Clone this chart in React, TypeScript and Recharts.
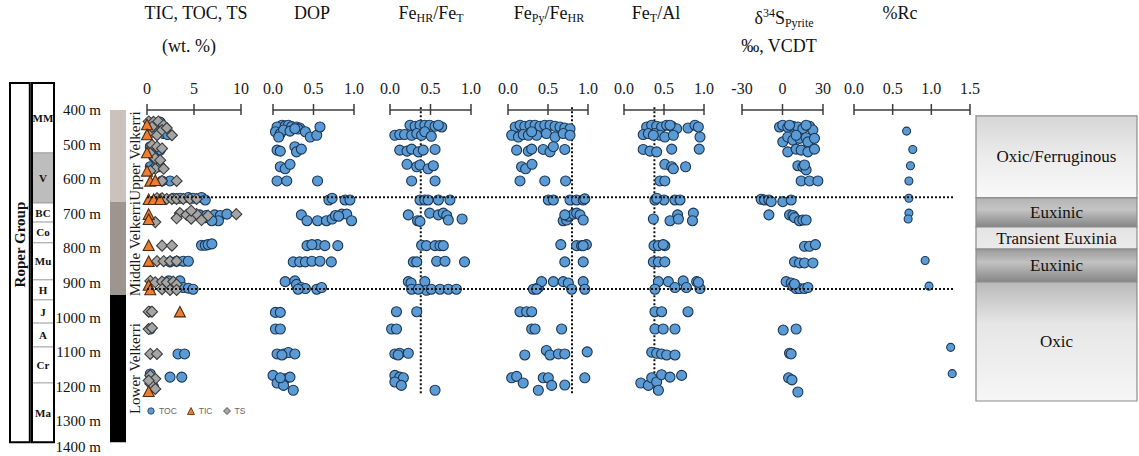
import React from "react";
import { ScatterChart, Scatter, XAxis, YAxis, ReferenceLine, ReferenceArea } from "recharts";

const SERIF = '"Liberation Serif", "Times New Roman", serif';
const SANS = '"Liberation Sans", Arial, sans-serif';
const W = 1139;
const H = 456;
const TOP = 110; // plot top (400 m)
const DEPTH: [number, number] = [400, 1400];
const PAD = 14;

const depthTicks = [400, 500, 600, 700, 800, 900, 1000, 1100, 1200, 1300, 1400];

const members = [
  { name: "Upper Velkerri", top: 400, base: 666 },
  { name: "Middle Velkerri", top: 666, base: 935 },
  { name: "Lower Velkerri", top: 935, base: 1360 },
];
const memberColors = ["#cbc2be", "#9e9490", "#000000"];

const formations = [
  { name: "MM", top: 322, base: 524 },
  { name: "V", top: 524, base: 669 },
  { name: "BC", top: 669, base: 724 },
  { name: "Co", top: 724, base: 784 },
  { name: "Mu", top: 784, base: 891 },
  { name: "H", top: 891, base: 949 },
  { name: "J", top: 949, base: 1016 },
  { name: "A", top: 1016, base: 1085 },
  { name: "Cr", top: 1085, base: 1189 },
  { name: "Ma", top: 1189, base: 1360 },
];

const redoxZones = [
  { name: "Oxic/Ferruginous", top: 417, base: 654 },
  { name: "Euxinic", top: 654, base: 738 },
  { name: "Transient Euxinia", top: 738, base: 802 },
  { name: "Euxinic", top: 802, base: 897 },
  { name: "Oxic", top: 897, base: 1241 },
];
const zoneFills = ["url(#zOxFe)", "url(#zEux1)", "url(#zTrans)", "url(#zEux2)", "url(#zOxic)"];

const boundaryDepths = [652, 917];

// [depth m, value]
const toc = [
  [438, 0.35], [444, 0.88], [435, 1.4], [468, 1.77], [471, 2.2], [458, 0.53], [454, 1.06],
  [506, 0.35], [511, 0.88], [516, 1.4], [535, 0.7],
  [564, 0.35], [567, 0.88], [564, 1.4],
  [605, 2.45], [605, 1.6],
  [655, 3.5], [653, 4.4], [655, 4.9], [653, 5.8], [660, 6.2], [655, 2.8],
  [703, 5.6], [711, 6.2], [713, 6.7], [703, 7.2], [705, 7.8], [701, 8.5], [720, 7.6], [720, 6.9], [705, 6.3],
  [791, 5.8], [791, 6.2], [789, 6.5], [787, 6.9],
  [837, 3.15], [837, 3.86], [837, 4.4], [839, 2.45],
  [894, 2.3], [894, 3.5], [913, 3.86], [915, 4.4], [918, 4.9], [913, 2.45],
  [983, 0.35], [1033, 0.35], [1105, 3.3], [1105, 4.0],
  [1172, 2.45], [1172, 3.7], [1163, 0.35], [1182, 0.5], [1201, 0.7],
];
const ts = [
  [433, 0.18], [434, 0.7], [433, 1.2], [444, 1.77], [473, 2.65], [468, 0.35], [473, 1.06], [458, 1.6], [452, 2.1], [449, 0.53],
  [501, 0.53], [506, 1.06], [511, 1.6], [525, 0.35], [540, 0.88], [545, 1.4],
  [570, 0.88], [570, 1.77], [576, 0.35],
  [605, 1.6], [605, 3.15],
  [655, 1.06], [655, 1.6], [657, 2.1], [657, 2.65], [657, 3.15], [657, 3.86], [657, 4.57], [657, 5.28],
  [724, 0.88], [698, 3.5], [713, 3.15], [703, 4.2], [714, 4.7], [701, 5.28], [718, 5.8], [705, 6.5], [701, 9.5], [691, 4.7],
  [792, 1.6], [792, 2.65],
  [837, 1.06], [837, 1.77], [837, 2.45], [837, 3.15],
  [894, 0.35], [898, 0.88], [896, 1.6], [898, 2.1], [896, 2.8], [904, 3.15], [918, 1.6], [920, 2.45], [920, 3.15],
  [983, 0.18], [983, 0.53],
  [1033, 0.18], [1030, 0.53],
  [1105, 0.35], [1105, 1.06],
  [1167, 0.35], [1177, 0.88], [1191, 0.35], [1206, 0.88], [1182, 0.18],
];
const tic = [
  [444, 0], [473, 0], [525, 0], [578, 0], [607, 0.35], [605, 0.88], [660, 0.18], [660, 0.7], [660, 1.4],
  [703, 0.18], [718, 0.18], [793, 0.18], [839, 0.18], [908, 0.18], [921, 0.35], [985, 3.5], [1215, 0.18],
];

const dop = [
  [444, 0.11], [449, 0.05], [446, 0.15], [444, 0.19], [448, 0.23], [449, 0.29], [452, 0.33], [463, 0.03], [468, 0.09],
  [458, 0.13], [461, 0.21], [455, 0.31], [463, 0.4], [478, 0.46], [473, 0.54], [449, 0.58], [478, 0.07], [454, 0.27],
  [516, 0.05], [519, 0.09], [506, 0.27], [521, 0.29], [513, 0.35],
  [564, 0.09], [570, 0.15], [557, 0.21],
  [605, 0.05], [605, 0.17], [605, 0.55],
  [660, 0.69], [655, 0.73], [660, 0.89], [660, 0.95],
  [703, 0.35], [720, 0.42], [720, 0.55], [720, 0.66], [715, 0.73], [705, 0.77], [701, 0.85], [701, 0.91], [720, 0.97], [707, 0.81],
  [792, 0.42], [789, 0.55], [792, 0.64], [792, 0.8], [789, 0.48],
  [839, 0.25], [839, 0.33], [839, 0.4], [837, 0.48], [837, 0.58], [839, 0.72],
  [896, 0.15], [894, 0.27], [904, 0.29], [913, 0.35], [916, 0.4], [918, 0.54], [913, 0.6], [918, 0.31],
  [985, 0.03], [985, 0.09],
  [1033, 0.03], [1033, 0.09],
  [1105, 0.05], [1105, 0.13], [1101, 0.19], [1105, 0.27], [1108, 0.11],
  [1167, 0.0], [1189, 0.05], [1177, 0.15], [1172, 0.21], [1196, 0.13], [1210, 0.25], [1174, 0.09],
];

const feHR = [
  [444, 0.247], [447, 0.31], [444, 0.37], [444, 0.43], [444, 0.49], [447, 0.556], [449, 0.638], [444, 0.597],
  [473, 0.06], [471, 0.12], [471, 0.18], [473, 0.267], [468, 0.33], [473, 0.39], [463, 0.43], [476, 0.51],
  [516, 0.12], [519, 0.21], [513, 0.267], [521, 0.35], [516, 0.41], [514, 0.556],
  [557, 0.21], [564, 0.33], [559, 0.37], [570, 0.47], [561, 0.535],
  [605, 0.267], [605, 0.556],
  [660, 0.37], [660, 0.43], [660, 0.47], [660, 0.597], [660, 0.74],
  [703, 0.226], [720, 0.34], [722, 0.37], [698, 0.49], [703, 0.597], [698, 0.658], [705, 0.7], [718, 0.72], [715, 0.89],
  [791, 0.39], [792, 0.45], [792, 0.556], [792, 0.617], [792, 0.658],
  [839, 0.288], [839, 0.33], [837, 0.576], [837, 0.679], [839, 0.92],
  [896, 0.226], [900, 0.26], [918, 0.267], [896, 0.43], [921, 0.45], [918, 0.51], [918, 0.617], [918, 0.72], [918, 0.82], [918, 0.35],
  [983, 0.08], [983, 0.33],
  [1033, 0.02], [1033, 0.08],
  [1105, 0.06], [1103, 0.12], [1103, 0.226], [1108, 0.1],
  [1167, 0.06], [1172, 0.12], [1174, 0.165], [1186, 0.06], [1196, 0.14], [1210, 0.556],
];

const fePy = [
  [449, 0.09], [444, 0.15], [447, 0.21], [444, 0.275], [444, 0.338], [447, 0.4], [444, 0.46], [444, 0.525], [447, 0.588], [449, 0.65], [452, 0.71], [454, 0.775],
  [473, 0.046], [478, 0.13], [471, 0.19], [473, 0.254], [473, 0.358], [468, 0.48], [478, 0.588], [468, 0.69], [473, 0.775], [463, 0.296],
  [516, 0.108], [519, 0.254], [513, 0.296], [514, 0.44], [521, 0.525], [506, 0.567], [514, 0.71],
  [564, 0.17], [570, 0.22], [557, 0.3],
  [605, 0.15], [605, 0.46], [605, 0.72],
  [660, 0.504], [660, 0.567], [660, 0.775], [660, 0.858], [660, 0.94], [657, 0.96],
  [720, 0.69], [718, 0.733], [707, 0.754], [701, 0.817], [698, 0.858], [703, 0.9], [718, 0.94], [703, 0.71],
  [789, 0.66], [792, 0.858], [792, 0.92], [789, 0.98], [792, 0.94],
  [839, 0.71], [839, 0.94],
  [918, 0.317], [913, 0.379], [896, 0.42], [896, 0.567], [896, 0.69], [900, 0.754], [896, 0.94], [918, 0.358], [918, 0.796], [918, 0.96],
  [983, 0.15], [983, 0.233], [983, 0.296],
  [1033, 0.296], [1033, 0.338], [1033, 0.67],
  [1108, 0.21], [1095, 0.48], [1108, 0.525], [1105, 0.63], [1105, 0.71], [1099, 0.99],
  [1174, 0.046], [1170, 0.108], [1189, 0.19], [1174, 0.44], [1174, 0.504], [1196, 0.546], [1210, 0.379], [1195, 0.71], [1174, 0.96],
];

const feTAl = [
  [449, 0.283], [444, 0.346], [447, 0.408], [449, 0.47], [444, 0.533], [447, 0.596], [454, 0.658], [452, 0.8], [444, 0.887], [449, 0.929], [444, 0.575],
  [471, 0.24], [468, 0.304], [468, 0.387], [473, 0.45], [478, 0.51], [473, 0.617], [478, 0.95], [473, 0.367],
  [514, 0.24], [519, 0.325], [521, 0.408], [513, 0.596], [513, 0.94],
  [557, 0.51], [564, 0.596], [570, 0.617], [564, 0.77],
  [605, 0.45], [605, 0.51],
  [660, 0.387], [660, 0.5], [660, 0.637], [660, 0.7], [655, 0.408],
  [715, 0.367], [720, 0.575], [703, 0.67], [715, 0.68], [698, 0.867], [720, 0.856],
  [792, 0.375], [792, 0.43], [792, 0.51], [789, 0.49],
  [839, 0.367], [839, 0.43], [839, 0.51],
  [896, 0.43], [896, 0.554], [913, 0.637], [894, 0.74], [913, 0.78], [896, 0.908], [916, 0.95], [918, 0.387], [898, 0.93],
  [983, 0.387], [983, 0.47], [983, 0.8],
  [1033, 0.387], [1033, 0.49], [1033, 0.637],
  [1100, 0.346], [1103, 0.408], [1105, 0.47], [1108, 0.533], [1108, 0.637],
  [1189, 0.21], [1196, 0.304], [1174, 0.346], [1186, 0.408], [1165, 0.47], [1172, 0.575], [1167, 0.72], [1210, 0.43],
];

const d34S = [
  [449, -2.2], [444, 0.2], [450, 3.9], [447, 7.7], [449, 11.4], [454, 15.1], [447, 20.0], [458, 22.5], [444, 5.2], [444, 17.5],
  [492, 0.2], [478, 3.9], [487, 7.7], [482, 12.6], [480, 17.5], [492, 18.8], [482, 23.7], [473, 10.1],
  [521, 3.9], [513, 10.1], [516, 13.8], [521, 18.8], [513, 23.7],
  [561, 11.4], [564, 15.1], [573, 17.5], [559, 16.3],
  [605, 13.8], [605, 20.0], [605, 26.2],
  [658, -15.8], [660, -13.3], [660, -10.1], [665, -8.4], [665, 0.2], [660, 6.4],
  [703, -10.1], [703, 5.2], [705, 7.7], [711, 8.9], [720, 12.6], [718, 15.1], [718, 17.5],
  [794, 16.3], [794, 20.0], [789, 24.4],
  [839, 8.9], [842, 12.6], [842, 16.3], [842, 22.5],
  [896, 2.7], [900, 6.4], [909, 7.7], [916, 10.1], [916, 12.6], [916, 16.3], [913, 18.8], [903, 8.9],
  [1036, 0.5], [1033, 10.1],
  [1103, 5.2], [1105, 6.4],
  [1174, 4.5], [1180, 7.0], [1215, 11.4],
];

const rc = [
  [461, 0.68], [514, 0.76], [561, 0.73], [605, 0.71], [655, 0.71], [698, 0.71], [715, 0.7],
  [835, 0.92], [909, 0.97], [1086, 1.25], [1162, 1.27],
];

const rows = (a: number[][]) => a.map(([depth, value]) => ({ depth, value }));
// mid-depth anchors so that the helper charts have data of their own
const mids = (a: { top: number; base: number }[], value: number) =>
  a.map((d) => ({ depth: (d.top + d.base) / 2, value }));

const AxisTick = (p: any) => {
  const { x, y, payload, digits } = p;
  return (
    <g>
      <line x1={x} x2={x} y1={y - 6} y2={y + 5} stroke="#3c3c3c" strokeWidth={1.5} />
      <text x={x} y={y - 16} textAnchor="middle" fontFamily={SERIF} fontSize={16} fill="#1a1a1a">
        {Number(payload.value).toFixed(digits)}
      </text>
    </g>
  );
};

// depth label; the last one sits just inside the bottom edge, as in the figure
const DepthTick = (p: any) => (
  <text x={p.x} y={Math.min(p.y, H - 9)} textAnchor="end" dominantBaseline="central"
    fontFamily={SERIF} fontSize={15} fill="#111">
    {`${p.payload.value} m`}
  </text>
);

const dotShape = (r: number) => (p: any) => (
  <circle cx={p.cx} cy={p.cy} r={r} fill="#5b9bd5" stroke="#1c3653" strokeWidth={1.1} />
);
const triShape = (p: any) => (
  <polygon
    points={`${p.cx},${p.cy - 6} ${p.cx - 5.5},${p.cy + 4.5} ${p.cx + 5.5},${p.cy + 4.5}`}
    fill="#ed7d31" stroke="#4a2a10" strokeWidth={1.1}
  />
);
const diaShape = (p: any) => (
  <polygon
    points={`${p.cx},${p.cy - 5.5} ${p.cx + 5.5},${p.cy} ${p.cx},${p.cy + 5.5} ${p.cx - 5.5},${p.cy}`}
    fill="#a5a5a5" stroke="#3a3a3a" strokeWidth={1.1}
  />
);
const noShape = () => <g />;

function Panel({ x0, x1, domain, ticks, digits, children }: any) {
  return (
    <div style={{ position: "absolute", left: x0 - PAD, top: 0 }}>
      <ScatterChart
        width={x1 - x0 + 2 * PAD}
        height={H}
        margin={{ top: TOP - 30, right: PAD, bottom: 0, left: PAD }}
      >
        <XAxis
          type="number"
          dataKey="value"
          orientation="top"
          domain={domain}
          ticks={ticks}
          interval={0}
          height={30}
          tickLine={false}
          tickSize={0}
          tickMargin={0}
          axisLine={{ stroke: "#3c3c3c", strokeWidth: 1.5 }}
          tick={(p: any) => <AxisTick {...p} digits={digits} />}
        />
        <YAxis type="number" dataKey="depth" domain={DEPTH} reversed hide />
        {children}
      </ScatterChart>
    </div>
  );
}

const vDotted = (x: number) => (
  <ReferenceLine
    segment={[{ x, y: 392 }, { x, y: 1220 }]}
    ifOverflow="visible"
    stroke="#111"
    strokeWidth={2}
    strokeDasharray="2 2"
  />
);

const MemberLabel = (p: any) => {
  const { x, y, width, height } = p.viewBox;
  const cx = x + width + 9;
  const cy = y + height / 2;
  return (
    <text x={cx} y={cy} transform={`rotate(-90 ${cx} ${cy})`} textAnchor="middle" dominantBaseline="central"
      fontFamily={SERIF} fontSize={15} fill="#1a1a1a">
      {p.text}
    </text>
  );
};

const CenterLabel = (p: any) => {
  const { x, y, width, height } = p.viewBox;
  const cx = x + width / 2;
  const cy = y + height / 2 + (p.dy || 0);
  return (
    <text x={cx} y={cy} transform={p.rotate ? `rotate(-90 ${cx} ${cy})` : undefined} textAnchor="middle"
      dominantBaseline="central" fontFamily={SERIF} fontSize={p.size} fontWeight={p.bold ? 700 : 400} fill="#111">
      {p.text}
    </text>
  );
};

const title = (cx: number, cy: number, node: React.ReactNode, size = 18) => (
  <div style={{ position: "absolute", left: cx - 100, top: cy - size / 2 - 1, width: 200, textAlign: "center",
    fontFamily: SERIF, fontSize: size, lineHeight: `${size}px`, color: "#111", whiteSpace: "nowrap" }}>
    {node}
  </div>
);
const sub = (t: string) => <span style={{ fontSize: 12, verticalAlign: -3 }}>{t}</span>;

export default function App() {
  return (
    <div style={{ position: "relative", width: W, height: H, overflow: "hidden", background: "#fff" }}>
      <style>{`body{margin:0} .recharts-surface{overflow:visible}`}</style>
      <svg width={0} height={0} style={{ position: "absolute" }}>
        <defs>
          <linearGradient id="zOxFe" x1="0" y1="0" x2="0" y2="1">
            <stop offset="0" stopColor="#d6d6d6" />
            <stop offset="0.5" stopColor="#ececec" />
            <stop offset="1" stopColor="#f9f9f9" />
          </linearGradient>
          <linearGradient id="zEux1" x1="0" y1="0" x2="0" y2="1">
            <stop offset="0" stopColor="#b4b4b4" />
            <stop offset="0.4" stopColor="#c4c4c4" />
            <stop offset="1" stopColor="#858585" />
          </linearGradient>
          <linearGradient id="zTrans" x1="0" y1="0" x2="0" y2="1">
            <stop offset="0" stopColor="#e4e4e4" />
            <stop offset="1" stopColor="#eaeaea" />
          </linearGradient>
          <linearGradient id="zEux2" x1="0" y1="0" x2="0" y2="1">
            <stop offset="0" stopColor="#9a9a9a" />
            <stop offset="0.4" stopColor="#c2c2c2" />
            <stop offset="1" stopColor="#868686" />
          </linearGradient>
          <linearGradient id="zOxic" x1="0" y1="0" x2="0" y2="1">
            <stop offset="0" stopColor="#b9b9b9" />
            <stop offset="0.35" stopColor="#e6e6e6" />
            <stop offset="1" stopColor="#f6f6f6" />
          </linearGradient>
        </defs>
      </svg>

      {/* titles */}
      {title(196, 14, "TIC, TOC, TS")}
      {title(189, 47, "(wt. %)")}
      {title(312, 14, "DOP")}
      {title(431, 14, <>Fe{sub("HR")}/Fe{sub("T")}</>)}
      {title(549, 14, <>Fe{sub("Py")}/Fe{sub("HR")}</>)}
      {title(656, 14, <>Fe{sub("T")}/Al</>)}
      {title(784, 14, <>δ<sup style={{ fontSize: 12 }}>34</sup>S{sub("Pyrite")}</>)}
      {title(779, 47, "‰, VCDT")}
      {title(900, 14, "%Rc")}

      {/* stratigraphic column */}
      <div style={{ position: "absolute", left: 10, top: 0 }}>
        <ScatterChart width={44} height={H} margin={{ top: TOP, right: 0, bottom: 0, left: 0 }}>
          <XAxis type="number" dataKey="value" domain={[0, 2]} hide />
          <YAxis type="number" dataKey="depth" domain={DEPTH} reversed hide />
          <ReferenceArea x1={0} x2={0.9} y1={322} y2={1360} ifOverflow="visible" fill="#fff" fillOpacity={1}
            stroke="#000" strokeWidth={2} label={<CenterLabel text="Roper Group" rotate size={15} bold dy={-18} />} />
          {formations.map((f) => (
            <ReferenceArea key={f.name} x1={1} x2={2} y1={f.top} y2={f.base} ifOverflow="visible"
              fill={f.name === "V" ? "#bdbdbd" : "#fff"} fillOpacity={1} stroke="#9a9a9a" strokeWidth={0.8}
              label={<CenterLabel text={f.name} size={11} bold />} />
          ))}
          <ReferenceArea x1={1} x2={2} y1={322} y2={1360} ifOverflow="visible" fill="none" stroke="#000" strokeWidth={2} />
          <Scatter data={mids(formations, 1.5)} shape={noShape} isAnimationActive={false} />
        </ScatterChart>
      </div>

      {/* depth axis and members */}
      <div style={{ position: "absolute", left: 0, top: 0 }}>
        <ScatterChart width={150} height={H} margin={{ top: TOP, right: 24, bottom: 0, left: 0 }}>
          <XAxis type="number" dataKey="value" domain={[0, 1]} hide />
          <YAxis type="number" dataKey="depth" domain={DEPTH} reversed ticks={depthTicks} interval={0} width={110}
            tickSize={0} tickMargin={9} axisLine={false} tickLine={false} tick={<DepthTick />} />
          {members.map((m, i) => (
            <ReferenceArea key={m.name} y1={m.top} y2={m.base} ifOverflow="visible" fill={memberColors[i]}
              fillOpacity={1} stroke="none" label={<MemberLabel text={m.name} />} />
          ))}
          <Scatter data={mids(members, 0.5)} shape={noShape} isAnimationActive={false} />
        </ScatterChart>
      </div>

      <Panel x0={147} x1={241} domain={[0, 10]} ticks={[0, 5, 10]} digits={0}>
        <Scatter name="TOC" data={rows(toc)} shape={dotShape(5)} isAnimationActive={false} />
        <Scatter name="TS" data={rows(ts)} shape={diaShape} isAnimationActive={false} />
        <Scatter name="TIC" data={rows(tic)} shape={triShape} isAnimationActive={false} />
      </Panel>
      <Panel x0={273} x1={354} domain={[0, 1]} ticks={[0, 0.5, 1]} digits={1}>
        <Scatter name="DOP" data={rows(dop)} shape={dotShape(5)} isAnimationActive={false} />
      </Panel>
      <Panel x0={390} x1={471} domain={[0, 1]} ticks={[0, 0.5, 1]} digits={1}>
        <Scatter name="FeHR/FeT" data={rows(feHR)} shape={dotShape(5)} isAnimationActive={false} />
        {vDotted(0.38)}
      </Panel>
      <Panel x0={508} x1={588} domain={[0, 1]} ticks={[0, 0.5, 1]} digits={1}>
        <Scatter name="FePy/FeHR" data={rows(fePy)} shape={dotShape(5)} isAnimationActive={false} />
        {vDotted(0.8)}
      </Panel>
      <Panel x0={624} x1={704} domain={[0, 1]} ticks={[0, 0.5, 1]} digits={1}>
        <Scatter name="FeT/Al" data={rows(feTAl)} shape={dotShape(5)} isAnimationActive={false} />
        {vDotted(0.38)}
      </Panel>
      <Panel x0={742} x1={823} domain={[-30, 30]} ticks={[-30, 0, 30]} digits={0}>
        <Scatter name="d34S" data={rows(d34S)} shape={dotShape(5)} isAnimationActive={false} />
      </Panel>
      <Panel x0={854} x1={970} domain={[0, 1.5]} ticks={[0, 0.5, 1, 1.5]} digits={1}>
        <Scatter name="%Rc" data={rows(rc)} shape={dotShape(4)} isAnimationActive={false} />
      </Panel>

      {/* member boundaries */}
      <div style={{ position: "absolute", left: 147, top: 0 }}>
        <ScatterChart width={808} height={H} margin={{ top: TOP, right: 0, bottom: 0, left: 0 }}>
          <XAxis type="number" dataKey="value" domain={[0, 1]} hide />
          <YAxis type="number" dataKey="depth" domain={DEPTH} reversed hide />
          {boundaryDepths.map((d) => (
            <ReferenceLine key={d} y={d} stroke="#111" strokeWidth={2} strokeDasharray="2 2" />
          ))}
          <Scatter data={boundaryDepths.map((d) => ({ depth: d, value: 0.5 }))} shape={noShape} isAnimationActive={false} />
        </ScatterChart>
      </div>

      {/* redox interpretation */}
      <div style={{ position: "absolute", left: 975, top: 0 }}>
        <ScatterChart width={163} height={H} margin={{ top: TOP, right: 1, bottom: 0, left: 1 }}>
          <XAxis type="number" dataKey="value" domain={[0, 1]} hide />
          <YAxis type="number" dataKey="depth" domain={DEPTH} reversed hide />
          {redoxZones.map((z, i) => (
            <ReferenceArea key={i} y1={z.top} y2={z.base} ifOverflow="visible" fill={zoneFills[i]} fillOpacity={1}
              stroke="#8c8c8c" strokeWidth={1.2} label={<CenterLabel text={z.name} size={17} />} />
          ))}
          <Scatter data={mids(redoxZones, 0.5)} shape={noShape} isAnimationActive={false} />
        </ScatterChart>
      </div>

      {/* legend */}
      <div style={{ position: "absolute", left: 147, top: 406, display: "flex", alignItems: "center", gap: 4,
        fontFamily: SANS, fontSize: 8.5, color: "#666" }}>
        <svg width={8} height={8}><circle cx={4} cy={4} r={3.2} fill="#5b9bd5" stroke="#1c3653" strokeWidth={0.8} /></svg>
        <span style={{ marginRight: 6 }}>TOC</span>
        <svg width={8} height={8}><polygon points="4,0.5 0.5,7.5 7.5,7.5" fill="#ed7d31" stroke="#4a2a10" strokeWidth={0.8} /></svg>
        <span style={{ marginRight: 6 }}>TIC</span>
        <svg width={8} height={8}><polygon points="4,0.5 7.5,4 4,7.5 0.5,4" fill="#a5a5a5" stroke="#3a3a3a" strokeWidth={0.8} /></svg>
        <span>TS</span>
      </div>
    </div>
  );
}
